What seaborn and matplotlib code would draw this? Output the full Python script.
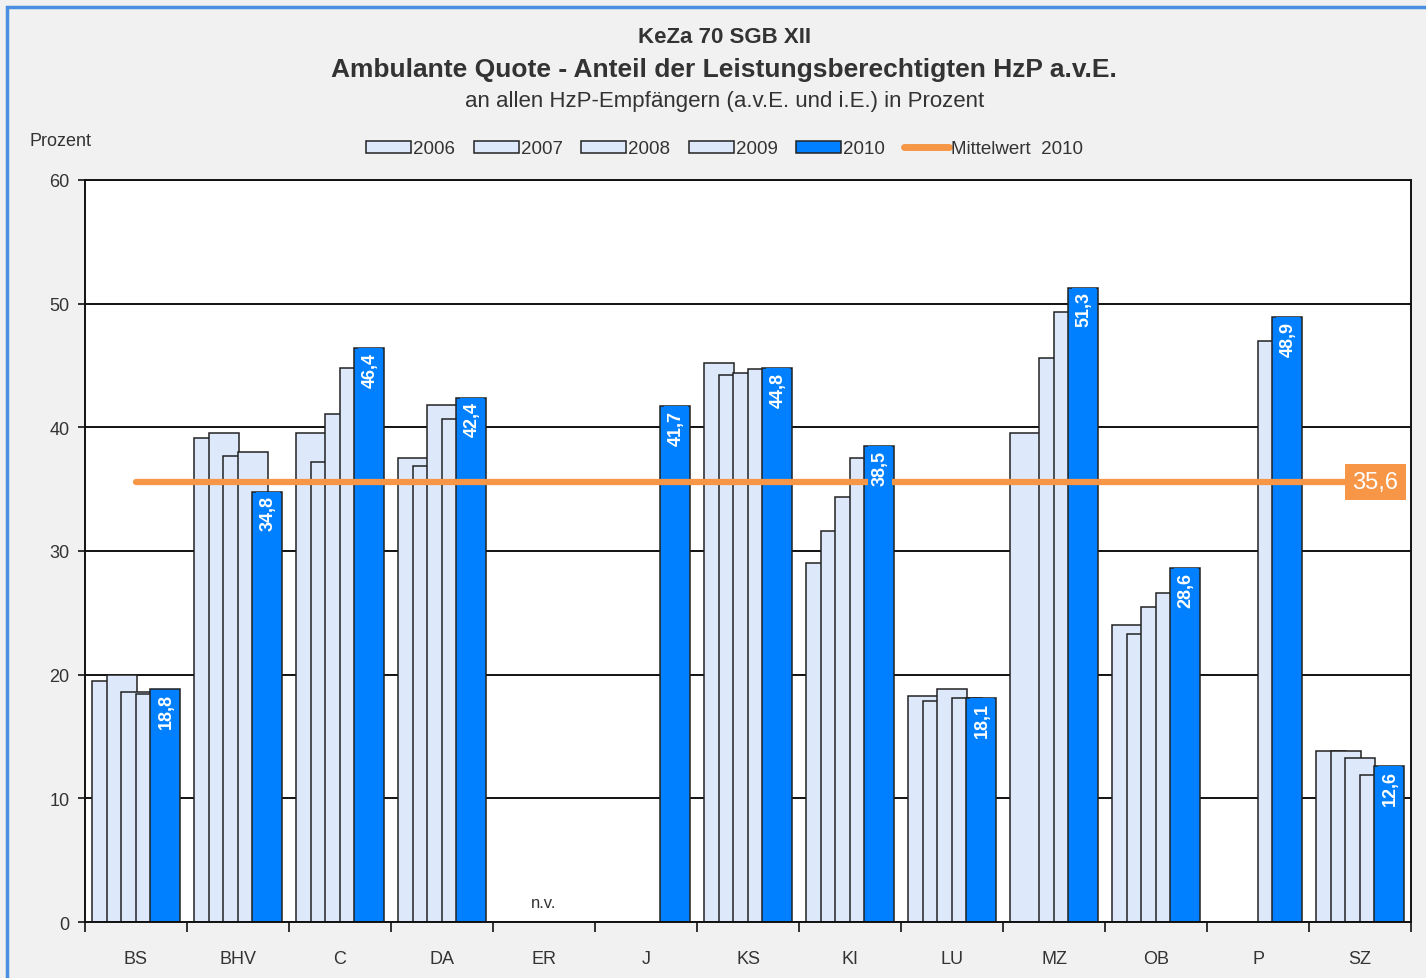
import numpy as np
import pandas as pd
import seaborn as sns
import matplotlib.pyplot as plt
from matplotlib.patches import Patch, Rectangle
from matplotlib.lines import Line2D

nan = np.nan
regions = ["BS", "BHV", "C", "DA", "ER", "J", "KS", "KI", "LU", "MZ", "OB", "P", "SZ"]
years = ["2006", "2007", "2008", "2009", "2010"]
q2006 = [19.5, 39.1, 39.5, 37.5, nan, nan, 45.2, 29.0, 18.3, 39.5, 24.0, nan, 13.8]
q2007 = [20.0, 39.5, 37.2, 36.9, nan, nan, 44.2, 31.6, 17.9, nan, 23.3, nan, 13.8]
q2008 = [18.6, 37.7, 41.1, 41.8, nan, nan, 44.4, 34.4, 18.8, 45.6, 25.5, nan, 13.3]
q2009 = [18.4, 38.0, 44.8, 40.7, nan, nan, 44.7, 37.5, 18.1, 49.3, 26.6, 47.0, 11.9]
q2010 = [18.8, 34.8, 46.4, 42.4, nan, 41.7, 44.8, 38.5, 18.1, 51.3, 28.6, 48.9, 12.6]
mean_2010 = 35.6

light = "#dde8fa"
blue = "#0080ff"
orange = "#f79646"

df = pd.DataFrame({"region": regions, "2006": q2006, "2007": q2007,
                   "2008": q2008, "2009": q2009, "2010": q2010})
long = df.melt(id_vars="region", var_name="year", value_name="quote").dropna()

sns.set_theme(style="white")
plt.rcParams["font.family"] = ["Liberation Sans", "DejaVu Sans"]

fig = plt.figure(figsize=(14.26, 9.79), dpi=100, facecolor="#f1f1f1")
ax = fig.add_axes([0.0596, 0.0572, 0.930, 0.7580])
ax.set_facecolor("white")

palette = {y: light for y in years[:4]}
palette["2010"] = blue
sns.barplot(data=long, x="region", y="quote", hue="year", order=regions,
            hue_order=years, palette=palette, width=0.71, dodge=True,
            edgecolor="#222222", linewidth=1.1, saturation=1, ax=ax, legend=False)

# Excel-style overlapping bars
bar_w = 0.294
for cont in ax.containers:
    for p in cont:
        p.set_x(p.get_x() - 0.075)
        p.set_width(bar_w)

# mean line
ax.plot([0, 12], [mean_2010, mean_2010], color=orange, lw=4.5,
        solid_capstyle="round", zorder=5)
ax.text(12.15, mean_2010, f"{mean_2010:.1f}".replace(".", ","), ha="center",
        va="center", color="white", fontsize=17, zorder=6,
        bbox=dict(boxstyle="square,pad=0.3", fc=orange, ec="none"))

# value labels on the 2010 bars
for p in ax.containers[4]:
    h = p.get_height()
    if np.isnan(h):
        continue
    ax.text(p.get_x() + p.get_width() / 2 + 0.01, h - 0.3,
            f"{h:.1f}".replace(".", ","), rotation=90, ha="center", va="top",
            color="white", fontweight="bold", fontsize=13, zorder=7,
            bbox=dict(boxstyle="square,pad=0.2", fc=blue, ec="none"))

ax.text(4, 1.0, "n.v.", ha="center", va="bottom", fontsize=12, color="#333333")

ax.set_ylim(0, 60)
ax.set_xlim(-0.5, 12.5)
ax.set_yticks(range(0, 61, 10))
ax.yaxis.grid(True, color="#111111", lw=1.4)
ax.set_axisbelow(True)
ax.set_xlabel("")
ax.set_ylabel("")
for s in ax.spines.values():
    s.set_color("#111111")
    s.set_linewidth(1.4)
ax.tick_params(axis="y", left=True, length=5, width=1.2, color="#111111",
               labelsize=13, labelcolor="#333333", pad=6)
ax.tick_params(axis="x", which="major", bottom=False, labelsize=13,
               labelcolor="#333333", pad=14)
ax.set_xticks(np.arange(-0.5, 13, 1), minor=True)
ax.tick_params(axis="x", which="minor", bottom=True, length=7, width=1.2,
               color="#111111")

# titles
fig.text(0.508, 0.962, "KeZa 70 SGB XII", ha="center", va="center",
         fontsize=16, fontweight="bold", color="#333333")
fig.text(0.508, 0.928, "Ambulante Quote - Anteil der Leistungsberechtigten HzP a.v.E.",
         ha="center", va="center", fontsize=19, fontweight="bold", color="#333333")
fig.text(0.508, 0.896, "an allen HzP-Empfängern (a.v.E. und i.E.) in Prozent",
         ha="center", va="center", fontsize=16, color="#333333")
fig.text(0.021, 0.855, "Prozent", ha="left", va="center", fontsize=13,
         color="#333333")

handles = [Patch(fc=light, ec="#222222", lw=1.1) for _ in years[:4]]
handles.append(Patch(fc=blue, ec="#222222", lw=1.1))
handles.append(Line2D([], [], color=orange, lw=5))
fig.legend(handles, years + ["Mittelwert  2010"], loc="center",
           bbox_to_anchor=(0.508, 0.847), ncol=6, frameon=False, fontsize=13.5,
           handlelength=2.4, handleheight=0.6, handletextpad=0.1,
           columnspacing=1.0, labelcolor="#333333")

fig.patches.append(Rectangle((0.005, -0.02), 1.2, 1.012, transform=fig.transFigure,
                             fill=False, ec="#4a90e2", lw=2.5))

fig.savefig("out.png", dpi=100, facecolor=fig.get_facecolor())
